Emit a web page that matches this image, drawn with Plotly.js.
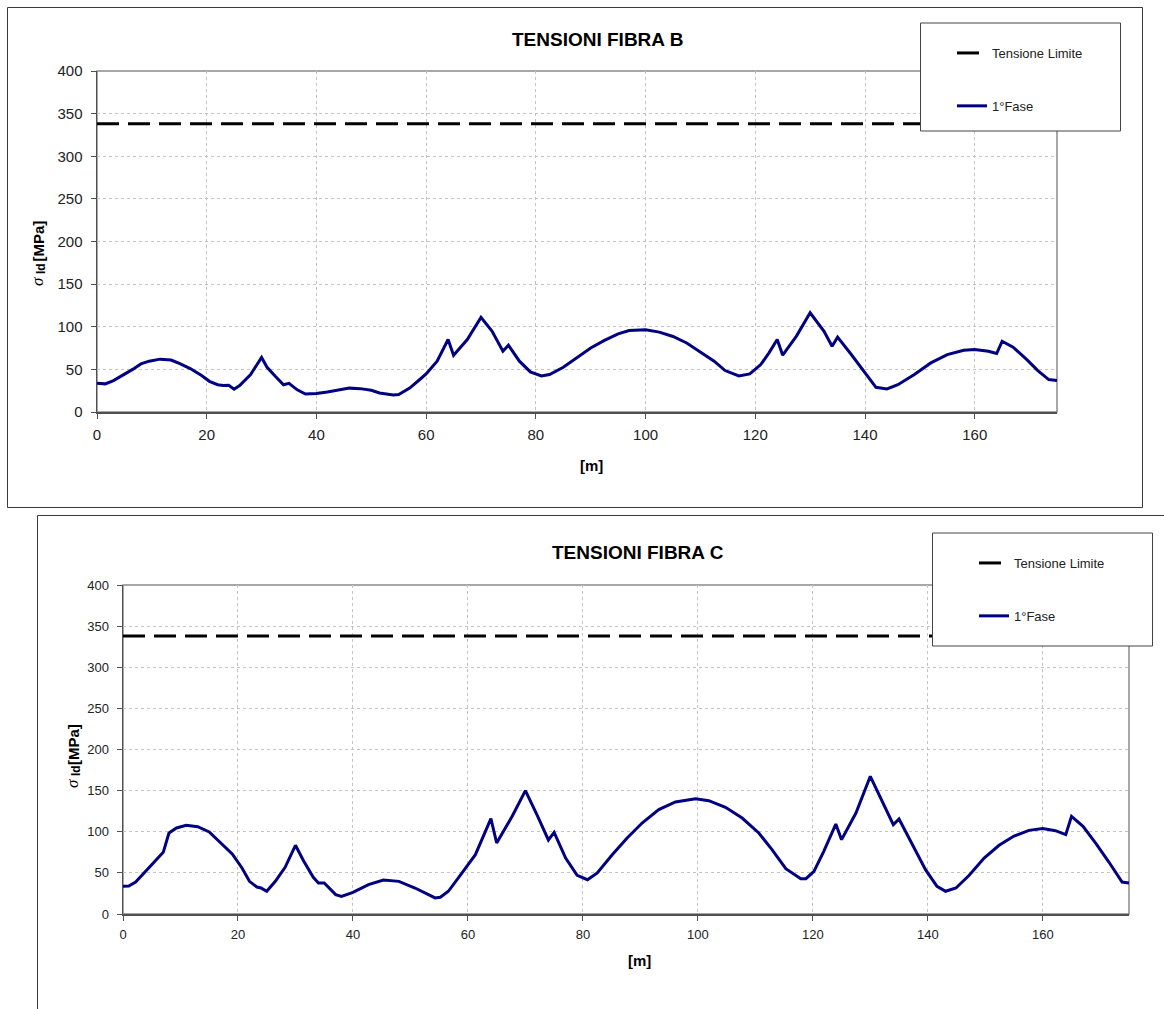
<!DOCTYPE html>
<html>
<head>
<meta charset="utf-8">
<script src="https://cdn.plot.ly/plotly-3.0.1.min.js"></script>
<style>
html,body{margin:0;padding:0;background:#fff;}
#chart{width:1164px;height:1009px;}
</style>
</head>
<body>
<div id="chart"></div>
<script>
// ---------- DATA ----------
const titleB = "TENSIONI FIBRA B";
const titleC = "TENSIONI FIBRA C";
const seriesLimitName = "Tensione Limite";
const seriesPhaseName = "1°Fase";

const limitX = [0, 175];
const limitY = [338, 338];

const xB = [0, 1.5, 3, 5, 6.5, 8, 9.5, 11.5, 13.5, 15, 17, 19, 20.5, 22, 23, 24, 25, 26, 28, 30,
  31, 32.5, 34, 35, 36.5, 38, 40, 42, 44, 46, 48, 50, 51.5, 54, 55, 57, 59, 60, 62, 64,
  65, 67.5, 70, 72, 74, 75, 77, 79, 81, 82.5, 85, 87.5, 90, 92.5, 95, 97, 100, 102.5, 105, 107.5,
  110, 112.5, 114.5, 117, 119, 121, 122.5, 124, 125, 127.5, 130, 132.5, 134, 135, 137.5, 140, 142, 144, 146, 149,
  152, 155, 158, 160, 162.5, 164, 165, 167, 169.5, 171.5, 173.5, 175];
const yB = [33.7, 33, 36.8, 44, 50, 56.4, 59.6, 62, 61, 57, 51, 43, 36, 32, 31, 31.4, 26.7, 31, 44, 64,
  52.5, 42, 32, 33.7, 26, 21, 21.6, 23.5, 26, 28, 27.4, 25.5, 22.3, 20, 20.4, 28, 39, 44.7, 59.6, 85,
  66.6, 85, 111, 95, 71.3, 78.4, 59.6, 47, 42.3, 44, 52.5, 63.5, 75, 84, 91.7, 95.6, 96.4, 93.7, 88.6, 81,
  70.6, 59.6, 48.6, 42.3, 44.7, 55.7, 69.4, 85, 66.6, 89, 116.4, 94.9, 77.2, 87.8, 67.4, 45.5, 29, 27, 32, 44,
  57.6, 67.4, 72.5, 73.3, 71.3, 68.6, 83, 76, 61.5, 48.6, 38, 36.8];

const xC = [0, 1, 2.2, 3.5, 5.3, 7, 8, 9.3, 11, 13, 15, 17, 19, 20.7, 22, 23.3, 24, 25, 26.5, 28.2,
  30, 31.4, 33.1, 34, 35, 37, 38, 40, 42.7, 45.3, 48, 50.8, 53, 54.3, 55.2, 56.6, 58.4, 61.3, 64, 65,
  67.7, 70, 72, 74, 75, 77, 79, 80.8, 82.5, 85.1, 87.7, 90.3, 93.2, 96.1, 99.6, 101.9, 104.8, 107.7, 110.6, 112.9,
  115.3, 117.9, 118.8, 120.2, 121.9, 124, 125, 127.5, 130, 132, 134, 135, 137.3, 139.6, 141.6, 143.1, 144.9, 147.2, 149.8, 152.4,
  155, 157.6, 160, 162.2, 164, 165, 167, 169.2, 171.5, 173.8, 175];
const yC = [33.6, 34, 38.9, 48.6, 62.8, 75, 98.5, 104.6, 107.8, 106.2, 99.7, 86.3, 73, 56, 39.7, 32.8, 31.6, 27.6, 39.7, 56.7,
  83.5, 64.8, 44.6, 37.7, 37.7, 23.5, 21.5, 26.3, 35.7, 41.3, 39.7, 31.6, 23.5, 19.5, 20.3, 27.6, 44.6, 72.1, 115.9, 86.3,
  118.8, 150, 120.8, 90, 99.3, 68, 47, 41.7, 49.9, 72.1, 92.4, 110.6, 126.9, 136.2, 140.2, 137.8, 129.7, 116.7, 98.5, 78.2,
  55.1, 43, 43, 51.9, 76.2, 109.4, 90.4, 122.8, 167.4, 137, 108.6, 115.5, 84.3, 53.9, 33.6, 27.6, 31.6, 47, 68.1, 83.5,
  94.8, 101.7, 103.8, 101.3, 96.5, 118.8, 106.6, 86.3, 63.2, 38.9, 37.7];

const xRange = [0, 175];
const yRange = [0, 400];
const xStep = 20;
const yStep = 50;
const xLabel = "[m]";
const yLabelSymbol = "σ";
const yLabelSub = "Id";
const yLabelUnit = "[MPa]";

// ---------- LAYOUT HELPERS (pixel -> paper) ----------
const W = 1164, H = 1009;
const PX = p => p / W;
const PY = p => 1 - p / H;
const FONT = "Liberation Sans, Arial, sans-serif";
const SERIF = "Liberation Serif, Times New Roman, serif";
const navy = "#000080";

function xAxis(d0, d1, anchor, fs) {
  return {
    domain: [PX(d0), PX(d1)], anchor: anchor, range: xRange, dtick: xStep, tick0: 0,
    showgrid: true, gridcolor: "#c4c4c4", griddash: "dot", gridwidth: 1,
    zeroline: false, showline: true, linecolor: "#505050", linewidth: 1.5,
    ticks: "outside", ticklen: 5, tickcolor: "#505050", tickwidth: 1,
    tickfont: {family: FONT, size: fs, color: "#222"}, ticklabelstandoff: 3, fixedrange: true
  };
}
function yAxis(d0, d1, anchor, fs) {
  return {
    domain: [PY(d1), PY(d0)], anchor: anchor, range: yRange, dtick: yStep, tick0: 0,
    showgrid: true, gridcolor: "#c4c4c4", griddash: "dot", gridwidth: 1,
    zeroline: false, showline: true, linecolor: "#505050", linewidth: 1.5,
    ticks: "outside", ticklen: 5, tickcolor: "#505050", tickwidth: 1,
    tickfont: {family: FONT, size: fs, color: "#222"}, ticklabelstandoff: 5, fixedrange: true
  };
}

const traces = [
  {x: limitX, y: limitY, xaxis: "x", yaxis: "y", type: "scatter", mode: "lines", name: seriesLimitName,
   line: {color: "#000", width: 3, dash: "22px,9px"}, legend: "legend", legendgroup: "b1", hoverinfo: "skip"},
  {x: xB, y: yB, xaxis: "x", yaxis: "y", type: "scatter", mode: "lines", name: seriesPhaseName,
   line: {color: navy, width: 3}, legend: "legend", legendgroup: "b2", hoverinfo: "skip"},
  {x: limitX, y: limitY, xaxis: "x2", yaxis: "y2", type: "scatter", mode: "lines", name: seriesLimitName,
   line: {color: "#000", width: 3, dash: "22px,9px"}, legend: "legend2", legendgroup: "c1", hoverinfo: "skip"},
  {x: xC, y: yC, xaxis: "x2", yaxis: "y2", type: "scatter", mode: "lines", name: seriesPhaseName,
   line: {color: navy, width: 3}, legend: "legend2", legendgroup: "c2", hoverinfo: "skip"}
];

const legendCommon = {
  xanchor: "left", yanchor: "top", bgcolor: "rgba(0,0,0,0)", borderwidth: 0,
  font: {family: FONT, size: 13, color: "#222"}, tracegroupgap: 33, traceorder: "grouped", itemclick: false, itemdoubleclick: false
};

function ann(text, x, y, font, extra) {
  return Object.assign({text: text, xref: "paper", yref: "paper", x: PX(x), y: PY(y),
    xanchor: "center", yanchor: "middle", showarrow: false, font: font}, extra || {});
}
function yTitle(xc, yUnit, ySub, ySym) {
  return [
    ann(yLabelSymbol, xc - 1, ySym, {family: SERIF, size: 17, style: "italic", color: "#000"}, {textangle: -90}),
    ann(yLabelSub, xc + 3, ySub, {family: FONT, size: 12, weight: "bold", color: "#000"}, {textangle: -90}),
    ann(yLabelUnit, xc, yUnit, {family: FONT, size: 15, weight: "bold", color: "#000"}, {textangle: -90})
  ];
}

const layout = {
  width: W, height: H,
  margin: {l: 0, r: 0, t: 0, b: 0, pad: 0, autoexpand: false},
  paper_bgcolor: "#fff", plot_bgcolor: "#fff",
  font: {family: FONT, color: "#222"},
  showlegend: true,
  xaxis: xAxis(97, 1057, "y", 15),
  yaxis: yAxis(71, 412, "x", 15),
  xaxis2: xAxis(123, 1129, "y2", 13),
  yaxis2: yAxis(585, 914, "x2", 13),
  legend: Object.assign({x: PX(952), y: PY(38)}, legendCommon),
  legend2: Object.assign({x: PX(974), y: PY(548)}, legendCommon),
  shapes: [
    {type: "rect", xref: "paper", yref: "paper", x0: PX(7.5), x1: PX(1142.5), y0: PY(507.5), y1: PY(7.5),
     line: {color: "#3a3a3a", width: 1}, layer: "below"},
    {type: "line", xref: "paper", yref: "paper", x0: PX(37.5), x1: PX(1164), y0: PY(515.5), y1: PY(515.5),
     line: {color: "#3a3a3a", width: 1}, layer: "below"},
    {type: "line", xref: "paper", yref: "paper", x0: PX(37.5), x1: PX(37.5), y0: PY(515.5), y1: PY(1009),
     line: {color: "#3a3a3a", width: 1}, layer: "below"},
    {type: "rect", xref: "x domain", yref: "y domain", x0: 0, x1: 1, y0: 0, y1: 1,
     line: {color: "#8a8a8a", width: 1.5}, layer: "below"},
    {type: "rect", xref: "x2 domain", yref: "y2 domain", x0: 0, x1: 1, y0: 0, y1: 1,
     line: {color: "#8a8a8a", width: 1.5}, layer: "below"},
    {type: "rect", xref: "paper", yref: "paper", x0: PX(920.5), x1: PX(1120.5), y0: PY(131), y1: PY(23),
     fillcolor: "#fff", line: {color: "#444", width: 1}, layer: "above"},
    {type: "rect", xref: "paper", yref: "paper", x0: PX(932.5), x1: PX(1152.5), y0: PY(646), y1: PY(533),
     fillcolor: "#fff", line: {color: "#444", width: 1}, layer: "above"}
  ],
  annotations: [
    ann(titleB, 597, 39, {family: FONT, size: 19, color: "#000", weight: "bold"}),
    ann(titleC, 638, 552, {family: FONT, size: 19, color: "#000", weight: "bold"}),
    ann(xLabel, 591, 465, {family: FONT, size: 15, color: "#000", weight: "bold"}),
    ann(xLabel, 639, 960, {family: FONT, size: 15, color: "#000", weight: "bold"})
  ].concat(yTitle(38, 241.5, 269, 282)).concat(yTitle(73, 745, 771, 784))
};

Plotly.newPlot("chart", traces, layout, {displayModeBar: false, staticPlot: true});
</script>
</body>
</html>
